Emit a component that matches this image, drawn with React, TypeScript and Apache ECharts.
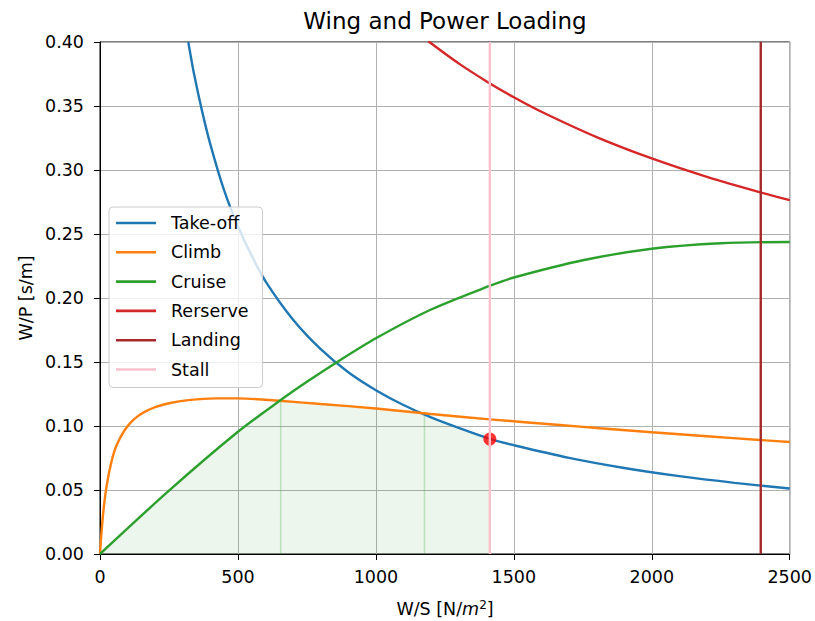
import React, { useEffect, useRef } from "react";
import * as echarts from "echarts";

// ---- Data ----
const takeoffWS = [320, 340, 370, 400, 450, 500, 550, 600, 700, 800, 900, 1000, 1100, 1200, 1300, 1415, 1500, 1700, 1900, 2100, 2300, 2500];
const takeoffWP = [0.4, 0.376, 0.346, 0.32, 0.284, 0.256, 0.233, 0.213, 0.183, 0.16, 0.142, 0.128, 0.1164, 0.1067, 0.0985, 0.0898, 0.085, 0.0751, 0.0672, 0.0608, 0.0556, 0.0512];

const climbWS = [0, 4, 10, 18, 28, 40, 54, 70, 88, 110, 135, 165, 200, 250, 320, 420, 500, 650, 800, 1000, 1200, 1413, 1667, 1812, 2000, 2200, 2391, 2500];
const climbWP = [0, 0.0129, 0.0284, 0.0443, 0.0582, 0.0706, 0.0815, 0.0894, 0.0963, 0.1024, 0.1073, 0.1114, 0.1148, 0.1178, 0.1202, 0.1216, 0.1216, 0.1197, 0.1172, 0.1137, 0.1094, 0.1052, 0.1008, 0.0982, 0.0951, 0.092, 0.0891, 0.0875];

const cruiseWS = [0, 250, 500, 650, 750, 860, 1000, 1200, 1414, 1500, 1750, 2000, 2250, 2500];
const cruiseWP = [0, 0.0495, 0.0955, 0.1195, 0.1345, 0.15, 0.1685, 0.191, 0.2096, 0.216, 0.2295, 0.2385, 0.2428, 0.2438];

const reserveWS = [1190, 1300, 1400, 1500, 1600, 1800, 2000, 2200, 2400, 2500];
const reserveWP = [0.4006, 0.3833, 0.3694, 0.3568, 0.3455, 0.3257, 0.309, 0.2946, 0.2821, 0.2765];

const landingWS = 2395;
const stallWS = 1413;
const designPoint = [1413, 0.0898];

const feasibleWS = [0, 250, 500, 655, 800, 1000, 1176, 1250, 1350, 1413];
const feasibleWP = [0, 0.0495, 0.0955, 0.1196, 0.1172, 0.1137, 0.1093, 0.1024, 0.0948, 0.0899];
const fillEdgeWS = [655, 1176];
const fillEdgeWP = [0.1196, 0.1093];

const xTicks = [0, 500, 1000, 1500, 2000, 2500];
const yTicks = [0, 0.05, 0.1, 0.15, 0.2, 0.25, 0.3, 0.35, 0.4];

const seriesNames = ["Take-off", "Climb", "Cruise", "Rerserve", "Landing", "Stall"];
const seriesColors = ["#1f77b4", "#ff7f0e", "#2ca02c", "#d62728", "#a52a2a", "#ffc0cb"];

const FONT = "DejaVu Sans";
const FS = 17.5;

const zip = (xs: number[], ys: number[]) => xs.map((x, i) => [x, ys[i]]);

export default function App() {
  const ref = useRef<HTMLDivElement>(null);
  useEffect(() => {
    if (!ref.current) return;
    const chart = echarts.init(ref.current, null, { renderer: "svg" });
    const lw = 2.4;
    const lineSeries = (name: string, color: string, data: number[][], smooth: boolean | number) => ({
      type: "line",
      name,
      data,
      showSymbol: false,
      symbol: "none",
      smooth,
      lineStyle: { color, width: lw },
      itemStyle: { color },
      clip: true,
      z: 3,
    });
    const option: any = {
      animation: false,
      backgroundColor: "#ffffff",
      grid: {
        left: 100,
        right: 25,
        top: 42,
        bottom: 67,
        show: true,
        borderColor: "#000",
        borderWidth: 1,
        backgroundColor: "transparent",
      },
      xAxis: {
        type: "value",
        min: xTicks[0],
        max: xTicks[xTicks.length - 1],
        interval: 500,
        axisLine: { show: true, onZero: false, lineStyle: { color: "#000", width: 1 } },
        axisTick: { show: true, length: 6, lineStyle: { color: "#000", width: 1 } },
        axisLabel: {
          color: "#000",
          fontFamily: FONT,
          fontSize: FS,
          margin: 14,
          showMaxLabel: true,
          showMinLabel: true,
          formatter: (v: number) => String(v),
        },
        splitLine: { show: true, lineStyle: { color: "#b0b0b0", width: 1 } },
      },
      yAxis: {
        type: "value",
        min: yTicks[0],
        max: yTicks[yTicks.length - 1],
        interval: 0.05,
        axisLine: { show: true, onZero: false, lineStyle: { color: "#000", width: 1 } },
        axisTick: { show: true, length: 6, lineStyle: { color: "#000", width: 1 } },
        axisLabel: {
          color: "#000",
          fontFamily: FONT,
          fontSize: FS,
          margin: 16,
          formatter: (v: number) => v.toFixed(2),
        },
        splitLine: { show: true, lineStyle: { color: "#b0b0b0", width: 1 } },
      },
      legend: {
        orient: "vertical",
        left: 109,
        top: 207,
        data: seriesNames,
        icon: "rect",
        itemWidth: 40,
        itemHeight: 2.6,
        itemGap: 9.3,
        padding: [6, 14, 8, 7],
        backgroundColor: "rgba(255,255,255,0.8)",
        borderColor: "#cccccc",
        borderWidth: 1,
        borderRadius: 4,
        textStyle: { color: "#000", fontFamily: FONT, fontSize: FS, lineHeight: 20, padding: [0, 0, 0, 10] },
      },
      graphic: [
        {
          type: "text",
          x: 445,
          y: 21,
          style: { text: "Wing and Power Loading", fontFamily: FONT, fontSize: 23, fill: "#000", align: "center", verticalAlign: "middle" },
        },
        {
          type: "text",
          x: 445,
          y: 609,
          style: {
            text: "{a|W/S [N/}{b|m}{c|2}{a|]}",
            align: "center",
            verticalAlign: "middle",
            rich: {
              a: { fontFamily: FONT, fontSize: FS, fill: "#000" },
              b: { fontFamily: FONT, fontSize: FS, fontStyle: "italic", fill: "#000" },
              c: { fontFamily: FONT, fontSize: 12, fill: "#000", padding: [0, 0, 9, 0] },
            },
          },
        },
        {
          type: "text",
          x: 26,
          y: 298,
          rotation: Math.PI / 2,
          style: { text: "W/P [s/m]", fontFamily: FONT, fontSize: FS, fill: "#000", align: "center", verticalAlign: "middle" },
        },
      ],
      series: [
        {
          type: "line",
          name: "feasible",
          data: zip(feasibleWS, feasibleWP),
          symbol: "none",
          showSymbol: false,
          lineStyle: { width: 0, opacity: 0 },
          areaStyle: { color: "rgba(44,160,44,0.13)", origin: "start" },
          z: 1,
          silent: true,
        },
        ...fillEdgeWS.map((x, i) => ({
          type: "line",
          name: "edge" + i,
          data: [[x, 0], [x, fillEdgeWP[i]]],
          symbol: "none",
          lineStyle: { color: "rgba(44,160,44,0.25)", width: 1.5 },
          z: 1,
          silent: true,
        })),
        lineSeries(seriesNames[0], seriesColors[0], zip(takeoffWS, takeoffWP), 0.3),
        lineSeries(seriesNames[1], seriesColors[1], zip(climbWS, climbWP), 0.3),
        lineSeries(seriesNames[2], seriesColors[2], zip(cruiseWS, cruiseWP), 0.3),
        lineSeries(seriesNames[3], seriesColors[3], zip(reserveWS, reserveWP), 0.3),
        lineSeries(seriesNames[4], seriesColors[4], [[landingWS, 0], [landingWS, 0.4]], false),
        {
          type: "scatter",
          name: "design",
          data: [designPoint],
          symbolSize: 13,
          itemStyle: { color: "#ff0000" },
          z: 4,
        },
        { ...lineSeries(seriesNames[5], seriesColors[5], [[stallWS, 0], [stallWS, 0.4]], false), z: 5 },
      ],
    };
    chart.setOption(option);
    return () => chart.dispose();
  }, []);
  return <div ref={ref} style={{ position: "fixed", left: 0, top: 0, width: 815, height: 621 }} />;
}
